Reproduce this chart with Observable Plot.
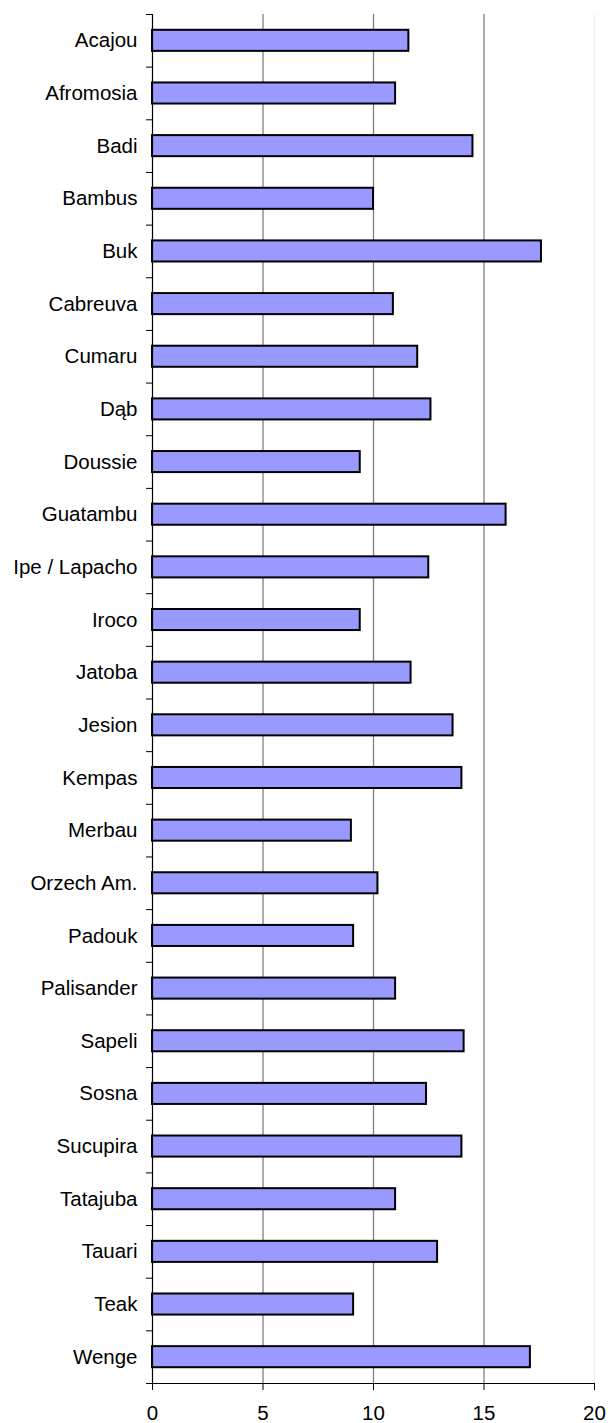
<!DOCTYPE html>
<html>
<head>
<meta charset="utf-8">
<script src="https://cdn.jsdelivr.net/npm/d3@7"></script>
<script src="https://cdn.jsdelivr.net/npm/@observablehq/plot@0.6"></script>
<style>
  html, body { margin: 0; padding: 0; background: #fff; }
  #chart svg { display: block; overflow: visible; }
</style>
</head>
<body>
<div id="chart"></div>
<script>
const categories = ["Acajou", "Afromosia", "Badi", "Bambus", "Buk", "Cabreuva", "Cumaru", "Dąb", "Doussie", "Guatambu", "Ipe / Lapacho", "Iroco", "Jatoba", "Jesion", "Kempas", "Merbau", "Orzech Am.", "Padouk", "Palisander", "Sapeli", "Sosna", "Sucupira", "Tatajuba", "Tauari", "Teak", "Wenge"];
const values = [11.6, 11.0, 14.5, 10.0, 17.6, 10.9, 12.0, 12.6, 9.4, 16.0, 12.5, 9.4, 11.7, 13.6, 14.0, 9.0, 10.2, 9.1, 11.0, 14.1, 12.4, 14.0, 11.0, 12.9, 9.1, 17.1];
const xTicks = [0, 5, 10, 15, 20];
const gridValues = [5, 10, 15];

const rows = categories.map((name, i) => ({name, value: values[i], i}));
const n = categories.length;

const chart = Plot.plot({
  width: 608,
  height: 1423,
  marginLeft: 152,
  marginRight: 14,
  marginTop: 14,
  marginBottom: 40,
  x: {domain: [0, 20], label: null},
  y: {domain: [0, n], reverse: true, label: null},
  style: {fontFamily: "'Liberation Sans', Arial, sans-serif", fontSize: "20.5px", color: "#000", background: "#fff", overflow: "visible"},
  marks: [
    Plot.ruleX([20], {stroke: "#eeeeee", strokeWidth: 1}),
    Plot.ruleX(gridValues, {stroke: "#808080", strokeWidth: 1.3}),
    Plot.rectX(rows, {x1: 0, x2: "value", y1: d => d.i + 0.3, y2: d => d.i + 0.7, fill: "#9999ff", stroke: "#000", strokeWidth: 2}),
    Plot.axisY({ticks: d3.range(0, n + 1), tickSize: 6, tickFormat: () => "", label: null, stroke: "#000", strokeOpacity: 1}),
    Plot.ruleX([0], {stroke: "#000", strokeWidth: 1.2}),
    Plot.ruleY([n], {stroke: "#000", strokeWidth: 1.2}),
    Plot.axisX({ticks: xTicks, tickSize: 7, tickPadding: 15, label: null, stroke: "#000", strokeOpacity: 1, fontSize: 20.5, tickFormat: d => String(d)}),
    Plot.text(rows, {x: 0, y: d => d.i + 0.5, text: "name", textAnchor: "end", dx: -15, fontSize: 20.5, fill: "#000"})
  ]
});
document.getElementById("chart").appendChild(chart);
</script>
</body>
</html>
